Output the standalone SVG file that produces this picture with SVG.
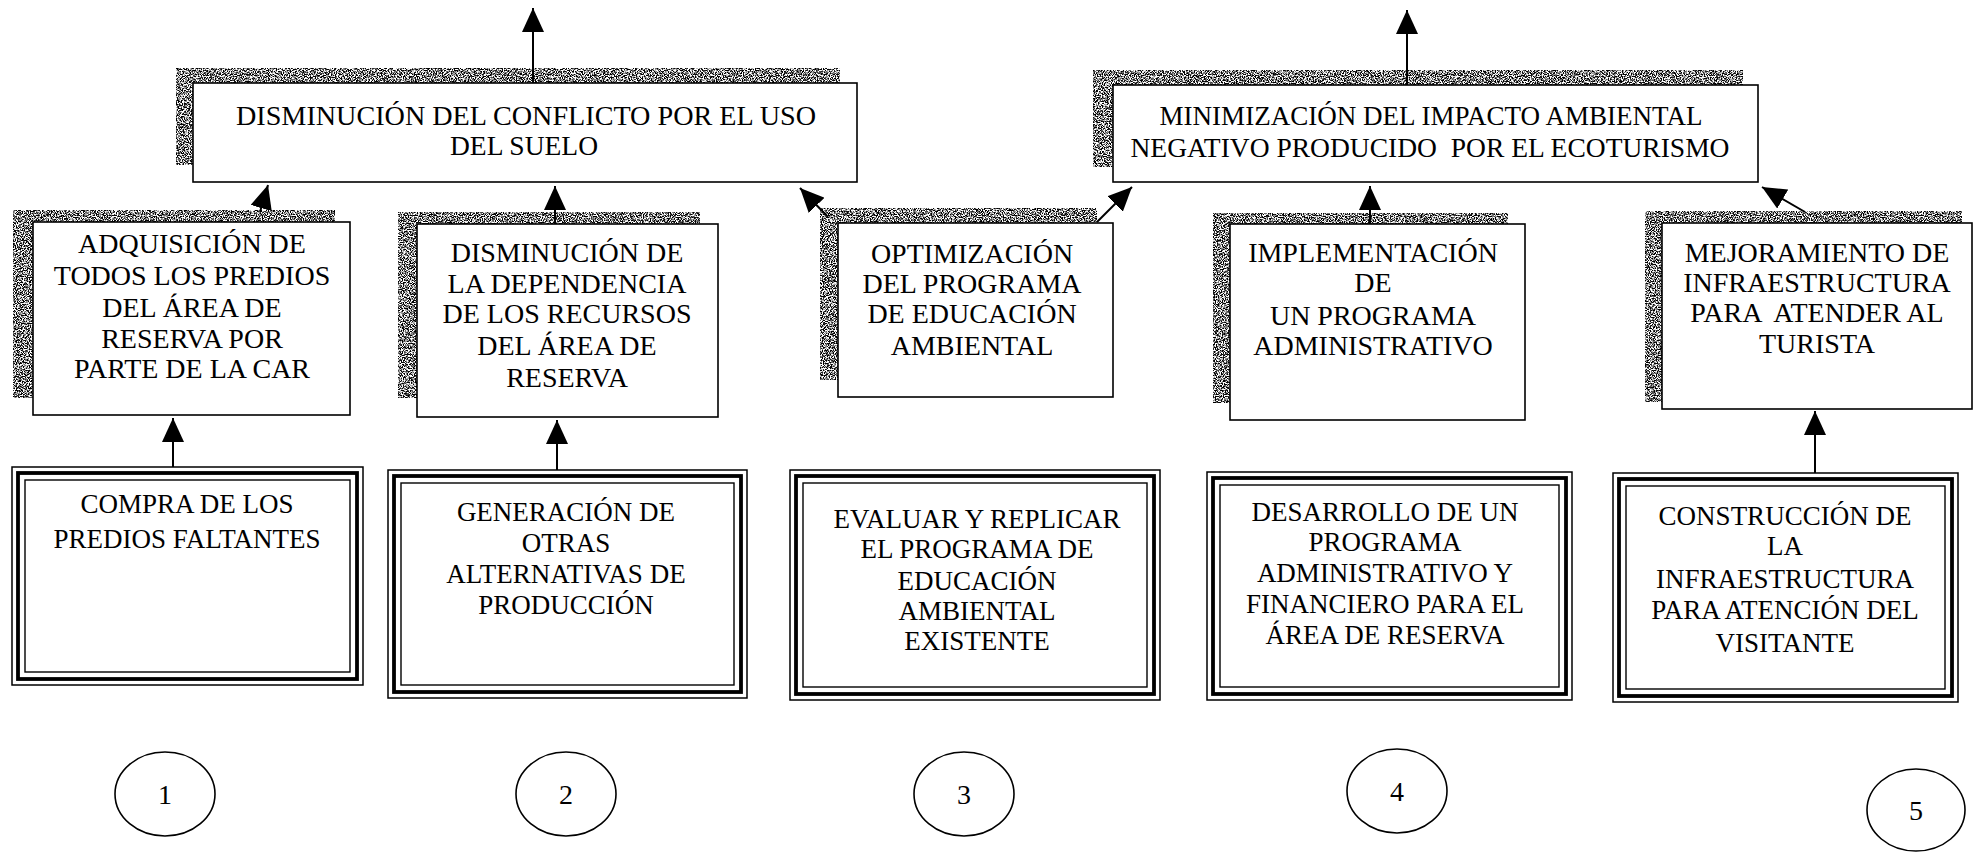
<svg xmlns="http://www.w3.org/2000/svg" width="1976" height="852" viewBox="0 0 1976 852">
<defs>
<style>
.bg{fill:#fff}
.sh{fill:#000;filter:url(#grain)}
.fr{fill:#fff;stroke:#000;stroke-width:1.6}
.bo{fill:#fff;stroke:#000;stroke-width:1.5}
.bm{fill:none;stroke:#000;stroke-width:3.8}
.bi{fill:none;stroke:#000;stroke-width:1.4}
.t{font-family:"Liberation Serif","Times New Roman",serif;font-size:28px;fill:#000;text-anchor:middle;white-space:pre}
.tt{font-family:"Liberation Serif","Times New Roman",serif;font-size:28px;fill:#000;text-anchor:middle;white-space:pre}
.tb{font-family:"Liberation Serif","Times New Roman",serif;font-size:27px;fill:#000;text-anchor:middle;white-space:pre}
.c{fill:#fff;stroke:#000;stroke-width:1.6}
.cn{font-family:"Liberation Serif","Times New Roman",serif;font-size:28px;fill:#000;text-anchor:middle}
.ln{fill:none;stroke:#000;stroke-width:2;marker-end:url(#ah)}
</style>
<filter id="grain" x="0" y="0" width="100%" height="100%">
<feTurbulence type="fractalNoise" baseFrequency="0.85" numOctaves="2" seed="7" result="n"/>
<feColorMatrix in="n" type="matrix" values="0 0 0 0 0  0 0 0 0 0  0 0 0 0 0  -5 0 0 0 3.0" result="d"/>
<feComposite in="d" in2="SourceGraphic" operator="in"/>
</filter>
<marker id="ah" viewBox="0 0 24 22" refX="24" refY="11" markerWidth="24" markerHeight="22" markerUnits="userSpaceOnUse" orient="auto">
<path d="M0,0 L24,11 L0,22 z" fill="#000"/>
</marker>
</defs>
<rect class="bg" x="0" y="0" width="1976" height="852"/>

<g id="connectors">
<path class="ln" d="M533,83 L533,8"/>
<path class="ln" d="M1407,85 L1407,10"/>
<path class="ln" d="M260,212 L268,185"/>
<path class="ln" d="M555,224 L555,186"/>
<path class="ln" d="M828,217 L800,188"/>
<path class="ln" d="M1097,222 L1132,187"/>
<path class="ln" d="M1370,224 L1370,186"/>
<path class="ln" d="M1805,212 L1762,187"/>
<path class="ln" d="M173,467 L173,418"/>
<path class="ln" d="M557,470 L557,420"/>
<path class="ln" d="M1815,473 L1815,411"/>
</g>

<g id="top1">
<rect class="sh" x="176" y="68" width="664" height="97"/>
<rect class="fr" x="193" y="83" width="664" height="99"/>
<text class="tt" x="526" y="125" textLength="580" lengthAdjust="spacingAndGlyphs">DISMINUCIÓN DEL CONFLICTO POR EL USO</text>
<text class="tt" x="524" y="155" textLength="148" lengthAdjust="spacingAndGlyphs">DEL SUELO</text>
</g>

<g id="top2">
<rect class="sh" x="1093" y="70" width="650" height="97"/>
<rect class="fr" x="1113" y="85" width="645" height="97"/>
<text class="tt" x="1431" y="125" textLength="543" lengthAdjust="spacingAndGlyphs">MINIMIZACIÓN DEL IMPACTO AMBIENTAL</text>
<text class="tt" x="1430" y="157" textLength="599" lengthAdjust="spacingAndGlyphs">NEGATIVO PRODUCIDO  POR EL ECOTURISMO</text>
</g>

<g id="mid1">
<rect class="sh" x="13" y="210" width="322" height="188"/>
<rect class="fr" x="33" y="222" width="317" height="193"/>
<text class="t" x="192" y="253">ADQUISICIÓN DE</text>
<text class="t" x="192" y="285">TODOS LOS PREDIOS</text>
<text class="t" x="192" y="317">DEL ÁREA DE</text>
<text class="t" x="192" y="348">RESERVA POR</text>
<text class="t" x="192" y="378">PARTE DE LA CAR</text>
</g>

<g id="mid2">
<rect class="sh" x="398" y="212" width="302" height="186"/>
<rect class="fr" x="417" y="224" width="301" height="193"/>
<text class="t" x="567" y="262">DISMINUCIÓN DE</text>
<text class="t" x="567" y="293">LA DEPENDENCIA</text>
<text class="t" x="567" y="323">DE LOS RECURSOS</text>
<text class="t" x="567" y="355">DEL ÁREA DE</text>
<text class="t" x="567" y="387">RESERVA</text>
</g>

<g id="mid3">
<rect class="sh" x="820" y="208" width="277" height="172"/>
<rect class="fr" x="838" y="223" width="275" height="174"/>
<text class="t" x="972" y="263">OPTIMIZACIÓN</text>
<text class="t" x="972" y="293">DEL PROGRAMA</text>
<text class="t" x="972" y="323">DE EDUCACIÓN</text>
<text class="t" x="972" y="355">AMBIENTAL</text>
</g>

<g id="mid4">
<rect class="sh" x="1213" y="213" width="295" height="190"/>
<rect class="fr" x="1230" y="224" width="295" height="196"/>
<text class="t" x="1373" y="262">IMPLEMENTACIÓN</text>
<text class="t" x="1373" y="292">DE</text>
<text class="t" x="1373" y="325">UN PROGRAMA</text>
<text class="t" x="1373" y="355">ADMINISTRATIVO</text>
</g>

<g id="mid5">
<rect class="sh" x="1645" y="211" width="317" height="191"/>
<rect class="fr" x="1662" y="223" width="310" height="186"/>
<text class="t" x="1817" y="262">MEJORAMIENTO DE</text>
<text class="t" x="1817" y="292">INFRAESTRUCTURA</text>
<text class="t" x="1817" y="322">PARA  ATENDER AL</text>
<text class="t" x="1817" y="353">TURISTA</text>
</g>

<g id="bot1">
<rect class="bo" x="12" y="467" width="351" height="218"/>
<rect class="bm" x="18" y="473" width="339" height="206"/>
<rect class="bi" x="25" y="480" width="325" height="192"/>
<text class="tb" x="187" y="513">COMPRA DE LOS</text>
<text class="tb" x="187" y="548">PREDIOS FALTANTES</text>
</g>

<g id="bot2">
<rect class="bo" x="388" y="470" width="359" height="228"/>
<rect class="bm" x="394" y="476" width="347" height="216"/>
<rect class="bi" x="401" y="483" width="333" height="202"/>
<text class="tb" x="566" y="521">GENERACIÓN DE</text>
<text class="tb" x="566" y="552">OTRAS</text>
<text class="tb" x="566" y="583">ALTERNATIVAS DE</text>
<text class="tb" x="566" y="614">PRODUCCIÓN</text>
</g>

<g id="bot3">
<rect class="bo" x="790" y="470" width="370" height="230"/>
<rect class="bm" x="796" y="476" width="358" height="218"/>
<rect class="bi" x="803" y="483" width="344" height="204"/>
<text class="tb" x="977" y="528">EVALUAR Y REPLICAR</text>
<text class="tb" x="977" y="558">EL PROGRAMA DE</text>
<text class="tb" x="977" y="590">EDUCACIÓN</text>
<text class="tb" x="977" y="620">AMBIENTAL</text>
<text class="tb" x="977" y="650">EXISTENTE</text>
</g>

<g id="bot4">
<rect class="bo" x="1207" y="472" width="365" height="228"/>
<rect class="bm" x="1213" y="478" width="353" height="216"/>
<rect class="bi" x="1220" y="485" width="339" height="202"/>
<text class="tb" x="1385" y="521">DESARROLLO DE UN</text>
<text class="tb" x="1385" y="551">PROGRAMA</text>
<text class="tb" x="1385" y="582">ADMINISTRATIVO Y</text>
<text class="tb" x="1385" y="613">FINANCIERO PARA EL</text>
<text class="tb" x="1385" y="644">ÁREA DE RESERVA</text>
</g>

<g id="bot5">
<rect class="bo" x="1613" y="473" width="345" height="229"/>
<rect class="bm" x="1619" y="479" width="333" height="217"/>
<rect class="bi" x="1626" y="486" width="319" height="203"/>
<text class="tb" x="1785" y="525">CONSTRUCCIÓN DE</text>
<text class="tb" x="1785" y="555">LA</text>
<text class="tb" x="1785" y="588">INFRAESTRUCTURA</text>
<text class="tb" x="1785" y="619">PARA ATENCIÓN DEL</text>
<text class="tb" x="1785" y="652">VISITANTE</text>
</g>

<g id="circle1"><ellipse class="c" cx="165" cy="794" rx="50" ry="42"/><text class="cn" x="165" y="804">1</text></g>
<g id="circle2"><ellipse class="c" cx="566" cy="794" rx="50" ry="42"/><text class="cn" x="566" y="804">2</text></g>
<g id="circle3"><ellipse class="c" cx="964" cy="794" rx="50" ry="42"/><text class="cn" x="964" y="804">3</text></g>
<g id="circle4"><ellipse class="c" cx="1397" cy="791" rx="50" ry="42"/><text class="cn" x="1397" y="801">4</text></g>
<g id="circle5"><ellipse class="c" cx="1916" cy="810" rx="49" ry="41"/><text class="cn" x="1916" y="820">5</text></g>
</svg>
